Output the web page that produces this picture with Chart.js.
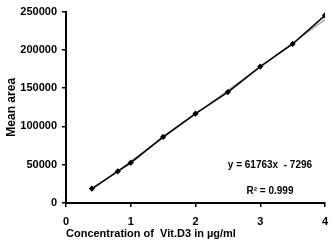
<!DOCTYPE html>
<html>
<head>
<meta charset="utf-8">
<script src="https://cdn.jsdelivr.net/npm/chart.js@4/dist/chart.umd.min.js"></script>
<style>
  html, body { margin: 0; padding: 0; background: #fff; }
  #wrap { width: 331px; height: 241px; }
</style>
</head>
<body>
<div id="wrap"><canvas id="calib"></canvas></div>
<script>
// calibration data
const concentration = [0.4, 0.8, 1.0, 1.5, 2.0, 2.5, 3.0, 3.5, 4.0];
const meanArea = [18800, 41400, 52600, 86300, 116700, 144900, 178200, 207700, 245000];

// linear trendline end points (y = 61763x - 7296)
const trendX = [0.4, 4.0];
const trendY = [17409, 239756];

const equationText = "y = 61763x  - 7296";
const r2Text = "R\u00b2 = 0.999";

const yTicks = [0, 50000, 100000, 150000, 200000, 250000];
const xTicks = [0, 1, 2, 3, 4];

const points = concentration.map((c, i) => ({ x: c, y: meanArea[i] }));
const trend = trendX.map((c, i) => ({ x: c, y: trendY[i] }));

// writes the regression equation onto the plot
const equationLabel = {
  id: "equationLabel",
  afterDraw(chart) {
    const ctx = chart.ctx;
    const xs = chart.scales.x, ys = chart.scales.y;
    ctx.save();
    ctx.fillStyle = "#000";
    ctx.font = "bold 10px 'Liberation Sans', Arial, sans-serif";
    ctx.textAlign = "center";
    ctx.textBaseline = "middle";
    ctx.fillText(equationText, xs.getPixelForValue(3.15), ys.getPixelForValue(49000));
    ctx.fillText(r2Text, xs.getPixelForValue(3.15), ys.getPixelForValue(16000));
    ctx.restore();
  }
};

const ctx = document.getElementById("calib").getContext("2d");
new Chart(ctx, {
  type: "scatter",
  data: {
    datasets: [
      {
        label: "trend",
        data: trend,
        showLine: true,
        borderColor: "#9a9a9a",
        borderWidth: 1.2,
        pointRadius: 0,
        order: 2
      },
      {
        label: "Mean area",
        data: points,
        showLine: true,
        borderColor: "#000",
        backgroundColor: "#000",
        borderWidth: 1.6,
        pointStyle: "rectRot",
        pointRadius: 2,
        order: 1
      }
    ]
  },
  options: {
    responsive: true,
    maintainAspectRatio: false,
    animation: false,
    layout: { padding: { top: 8, right: 6, left: 0, bottom: 0 } },
    plugins: {
      legend: { display: false },
      tooltip: { enabled: false }
    },
    scales: {
      x: {
        type: "linear",
        min: 0,
        max: 4,
        afterBuildTicks: (s) => { s.ticks = xTicks.map(v => ({ value: v })); },
        afterFit: (s) => { s.height = 38; s.paddingRight = 0; },
        grid: { drawOnChartArea: false, tickLength: 4, color: "#000", lineWidth: 1.5 },
        border: { color: "#000", width: 2 },
        ticks: {
          color: "#000",
          padding: 8,
          maxRotation: 0,
          font: { family: "'Liberation Sans', Arial, sans-serif", size: 11, weight: "bold" }
        },
        title: {
          display: true,
          text: "Concentration of  Vit.D3 in \u00b5g/ml",
          color: "#000",
          align: "start",
          padding: { top: 0, bottom: 0 },
          font: { family: "'Liberation Sans', Arial, sans-serif", size: 11, weight: "bold" }
        }
      },
      y: {
        type: "linear",
        min: 0,
        max: 250000,
        afterBuildTicks: (s) => { s.ticks = yTicks.map(v => ({ value: v })); },
        afterFit: (s) => { s.width = 66; },
        grid: { drawOnChartArea: false, tickLength: 4, color: "#000", lineWidth: 1.5 },
        border: { color: "#000", width: 2 },
        ticks: {
          color: "#000",
          padding: 5,
          callback: (v) => String(v),
          font: { family: "'Liberation Sans', Arial, sans-serif", size: 11, weight: "bold" }
        },
        title: {
          display: true,
          text: "Mean area",
          color: "#000",
          padding: { top: 4, bottom: 0 },
          font: { family: "'Liberation Sans', Arial, sans-serif", size: 12, weight: "bold" }
        }
      }
    }
  },
  plugins: [equationLabel]
});
</script>
</body>
</html>
